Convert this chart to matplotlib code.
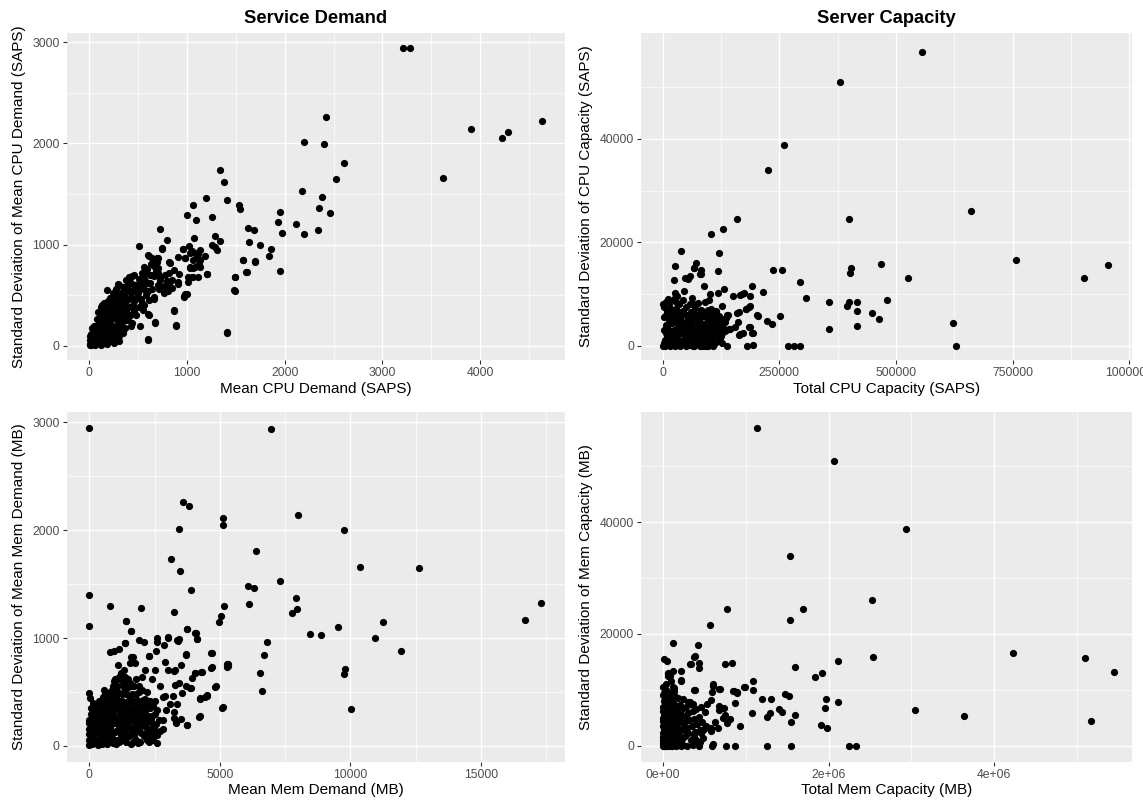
import numpy as np
import matplotlib
matplotlib.use("Agg")
import matplotlib.pyplot as plt
from matplotlib.ticker import FixedLocator

plt.rcParams['font.family'] = ['Liberation Sans', 'DejaVu Sans']

# ---------------- data ----------------
# Panel 1: Mean CPU Demand (SAPS) vs SD of Mean CPU Demand (SAPS)
cpu_demand_points = [
    (3216, 2940), (3284, 2940), (2420, 2257), (4629, 2224), (3902, 2142), (4288, 2109), (4220, 2049),
    (2201, 2013), (2405, 1997), (2610, 1802), (2523, 1650), (3621, 1657), (1333, 1733), (1383, 1620),
    (2178, 1528), (2383, 1475), (1405, 1442), (1197, 1462), (1057, 1396), (2352, 1366), (2462, 1313),
    (1947, 1320), (1534, 1389), (1538, 1356), (1000, 1297), (1095, 1244), (1258, 1274), (1928, 1224),
    (2117, 1201), (1625, 1168), (1686, 1148), (2345, 1145), (1970, 1112), (2201, 1102), (724, 1155),
    (1284, 1082), (799, 1046), (1072, 1063), (1333, 1036), (1633, 1023), (1750, 1000), (1258, 1000),
    (1284, 977), (1303, 950), (508, 983), (742, 964), (958, 957), (1019, 987), (1136, 944), (1117, 911),
    (1856, 957), (981, 868), (1837, 884), (1576, 845), (1701, 832), (1614, 726), (1955, 739), (1492, 680),
    (1489, 545), (1201, 710), (1413, 122), (871, 347), (890, 195), (606, 59), (670, 224), (1189, 884),
    (1133, 848), (1080, 776), (1027, 772), (1129, 779), (1114, 680), (1057, 680), (1011, 630), (917, 710),
    (905, 614), (1000, 515), (970, 482), (826, 822), (818, 719), (811, 597), (716, 561), (610, 891),
    (629, 812), (697, 868), (708, 769), (557, 779), (534, 653), (508, 581), (451, 548), (405, 663),
    (439, 690), (299, 607), (180, 550), (307, 515), (360, 356), (261, 333), (197, 185),
    (740, 961), (955, 961), (1050, 940), (1030, 920), (1100, 880), (1060, 850), (1085, 920), (910, 873),
    (978, 869), (818, 830), (869, 748), (700, 870), (695, 830), (1030, 775), (1064, 765), (1122, 808),
    (1203, 709), (1575, 846), (1698, 833), (1609, 732), (1490, 683), (1486, 552), (910, 627), (1012, 683),
    (1053, 676), (978, 513), (968, 487), (869, 356), (886, 203), (1405, 131), (603, 69), (672, 232),
    (597, 317), (552, 350), (518, 193), (426, 193), (610, 448), (661, 480), (569, 552), (528, 592),
    (767, 595), (801, 546), (842, 569), (849, 650), (723, 650), (700, 720), (665, 690), (630, 700),
    (644, 872), (603, 895), (665, 788),
    # dense cluster
    (5, 5), (10, 20), (15, 50), (20, 10), (25, 80), (30, 30), (35, 120), (40, 60), (45, 15), (50, 150),
    (12, 100), (8, 60), (30, 180), (55, 95), (60, 40), (65, 200), (70, 120), (75, 260), (80, 70),
    (85, 180), (90, 330), (95, 30), (100, 230), (105, 120), (110, 290), (115, 380), (120, 60), (125, 170),
    (130, 400), (135, 250), (140, 100), (145, 330), (150, 200), (155, 420), (160, 60), (165, 290),
    (170, 150), (175, 360), (185, 240), (190, 440), (195, 100), (200, 310), (205, 190), (210, 400),
    (215, 470), (220, 130), (225, 260), (230, 350), (240, 520), (245, 200), (250, 80), (255, 300),
    (260, 430), (265, 160), (270, 380), (275, 560), (280, 250), (285, 480), (290, 120), (295, 330),
    (300, 600), (305, 210), (310, 420), (315, 280), (320, 520), (325, 160), (330, 360), (340, 460),
    (345, 240), (350, 580), (355, 300), (360, 400), (365, 180), (370, 520), (375, 650), (380, 340),
    (390, 450), (395, 250), (400, 560), (405, 680), (410, 380), (420, 300), (425, 480), (430, 620),
    (440, 220), (445, 400), (450, 540), (460, 700), (470, 450), (480, 300), (490, 600), (500, 520),
    (510, 380), (520, 660), (530, 460), (540, 720), (550, 580), (560, 400), (570, 640), (580, 500),
    (590, 760), (600, 620), (610, 300), (620, 700), (640, 560), (650, 820), (660, 460), (680, 740),
    (700, 600), (720, 680), (760, 520), (780, 700), (800, 640), (250, 30), (180, 20), (120, 10),
    (300, 100), (350, 130), (60, 5), (90, 90), (140, 220), (200, 50), (230, 180),
    (20, 120), (45, 200), (70, 40), (95, 150), (110, 200), (125, 330), (150, 280), (160, 370), (175, 90),
    (190, 330), (210, 250), (220, 450), (240, 300), (250, 390), (265, 490), (280, 170), (290, 410),
    (300, 50), (310, 510), (320, 330), (340, 200), (350, 420), (360, 510), (380, 250), (385, 590),
    (400, 460), (415, 300), (430, 530), (450, 460), (460, 340), (470, 600), (490, 480), (505, 660),
    (520, 560), (540, 420), (560, 660), (580, 720), (600, 540), (620, 620),
]

# Panel 2: Total CPU Capacity (SAPS) vs SD of CPU Capacity (SAPS)
cpu_capacity_points = [
    (554700, 56866), (379700, 51050), (260600, 38840), (224800, 34060), (659700, 26110), (399900, 24560),
    (158700, 24490), (129100, 22550), (104300, 21520), (39700, 18350), (120600, 17960), (757000, 16610),
    (71600, 16030), (466800, 15770), (955000, 15700), (27200, 15510), (403000, 15120), (66100, 15120),
    (81700, 14730), (235700, 14730), (255200, 14730), (117500, 14540), (401400, 14090), (80100, 13960),
    (57600, 13440), (47500, 13180), (23300, 12800), (526700, 13120), (903000, 13180), (294900, 12410),
    (87900, 11630), (190600, 11630), (131500, 10920), (214700, 10400), (119000, 10150), (27200, 10270),
    (150200, 9630), (30300, 9630), (101100, 10020), (165000, 9900), (170000, 10100), (174000, 10200),
    (186700, 9690), (307300, 9240), (480000, 8920), (355500, 8400), (398300, 8400), (415500, 8400),
    (126000, 7690), (185900, 7500), (178900, 7110), (395200, 7690), (416200, 6660), (448100, 6400),
    (462900, 5230), (159500, 6400), (138500, 6010), (202300, 5880), (251300, 5820), (223300, 4720),
    (235000, 4270), (622000, 4460), (416200, 3750), (355500, 3170), (185200, 3620), (164200, 2130),
    (171900, 2460), (192200, 2460), (143900, 3300), (135400, 2970), (120600, 1030), (122100, 2460),
    (180500, 0), (194500, 190), (269200, 0), (281600, 0), (294900, 0), (628300, 0), (137700, 0),
    (91000, 300), (97000, 0), (103000, 500), (107000, 0), (88000, 800), (62000, 300), (68000, 0),
    (19000, 6300), (27700, 7100), (65300, 8060), (104400, 7100), (140000, 5900), (136000, 5300),
    (163000, 6450), (177500, 7100), (187000, 7610), (203800, 5800), (161000, 4500), (154000, 3670),
    (132800, 2900), (141300, 3230), (125700, 1940), (186700, 3550), (193000, 2450), (166000, 2260),
    (86600, 0), (95000, 500), (99000, 1000), (55000, 13000), (67500, 14960), (83000, 13800),
    # dense cluster
    (0, 0), (2000, 500), (4000, 1200), (5000, 0), (6000, 2500), (8000, 4000), (10000, 300), (10000, 1800),
    (12000, 3200), (14000, 5000), (15000, 0), (16000, 1000), (18000, 2200), (20000, 4400), (20000, 200),
    (22000, 6100), (24000, 1400), (25000, 3000), (27000, 0), (28000, 5400), (30000, 2000), (30000, 600),
    (32000, 4000), (34000, 6600), (35000, 1200), (36000, 3100), (38000, 0), (40000, 4800), (40000, 2400),
    (42000, 5900), (44000, 800), (45000, 3600), (46000, 6200), (48000, 1800), (50000, 0), (50000, 4500),
    (52000, 2900), (54000, 5500), (55000, 500), (56000, 3700), (58000, 1400), (60000, 6500), (60000, 2400),
    (62000, 4300), (64000, 0), (65000, 5400), (67000, 1000), (68000, 3200), (70000, 7300), (70000, 2000),
    (72000, 4800), (74000, 6000), (75000, 300), (76000, 3600), (78000, 1600), (80000, 5400), (80000, 0),
    (82000, 2700), (84000, 6800), (85000, 4200), (86000, 900), (88000, 3400), (90000, 5800), (90000, 1800),
    (92000, 0), (94000, 4600), (95000, 2700), (96000, 7000), (98000, 600), (100000, 3900), (100000, 5600),
    (102000, 1400), (104000, 2400), (105000, 6400), (108000, 200), (108000, 4200), (110000, 3000),
    (112000, 5200), (114000, 1000), (115000, 6700), (118000, 3600), (120000, 2000), (120000, 5800),
    (124000, 4200), (126000, 500), (130000, 3400), (132000, 5200), (3000, 3000), (7000, 6000),
    (1000, 8000), (12000, 9000), (35000, 8000), (50000, 7500), (45000, 10500), (15000, 7300),
    (3000, 5500), (9000, 6800), (13000, 2000), (17000, 4300), (21000, 5600), (26000, 4700), (29000, 800),
    (33000, 2600), (37000, 5200), (41000, 1000), (43000, 6800), (47000, 2600), (51000, 6000), (53000, 1000),
    (57000, 4900), (59000, 200), (61000, 3600), (63000, 5800), (66000, 2200), (69000, 6100), (71000, 400),
    (73000, 3400), (77000, 5000), (79000, 2300), (81000, 7000), (83000, 4000), (87000, 2000), (89000, 6400),
    (91000, 3800), (93000, 1300), (97000, 5000), (99000, 2800), (103000, 4600), (106000, 1900),
    (109000, 5900), (111000, 600), (113000, 3900), (116000, 2300), (119000, 4800), (122000, 1200),
    (128000, 2500), (134000, 4500), (2000, 7500), (8000, 8500), (16000, 8500), (24000, 9000),
    (31000, 8200), (44000, 8800), (58000, 8000), (62000, 9200), (76000, 8200), (90000, 8500),
    (100000, 8800),
]

# Panel 3: Mean Mem Demand (MB) vs SD of Mean Mem Demand (MB)
mem_demand_points = [
    (0, 2944), (6969, 2941), (3598, 2262), (3810, 2228), (7989, 2144), (5113, 2110), (5113, 2052),
    (3428, 2014), (9759, 1999), (6374, 1804), (3144, 1736), (10354, 1659), (12634, 1653), (3456, 1622),
    (7294, 1532), (6091, 1480), (6289, 1464), (3895, 1443), (0, 1396), (7932, 1372), (17309, 1322),
    (6133, 1313), (5156, 1301), (807, 1301), (1983, 1279), (7946, 1270), (3258, 1245), (5042, 1205),
    (7748, 1230), (4971, 1152), (1416, 1159), (16671, 1168), (11246, 1146), (0, 1112), (9518, 1103),
    (1600, 1069), (3739, 1081), (4065, 1044), (8442, 1035), (8881, 1026), (4108, 989), (10920, 1001),
    (2592, 1004), (3031, 1007), (3385, 973), (6813, 961), (1374, 955), (1884, 982), (2082, 967),
    (11926, 884), (4660, 865), (6685, 847), (3697, 850), (2280, 834), (5311, 757), (5283, 735),
    (6544, 680), (4065, 680), (4306, 686), (4674, 726), (9773, 714), (9759, 664), (6615, 513),
    (4830, 544), (10028, 346), (5099, 355), (4193, 272), (3739, 192), (3314, 213), (3244, 256),
    (2365, 99), (0, 494), (42, 442), (4504, 463), (4419, 451), (4249, 439), (3895, 534),
    (1423, 1157), (1603, 1065), (1372, 958), (2590, 964), (2872, 933), (3013, 1004), (3359, 982),
    (3423, 989), (3756, 1081), (4090, 1044), (4128, 989), (795, 875), (960, 880), (1154, 896),
    (1603, 829), (1680, 823), (1731, 767), (1564, 767), (1090, 755), (2295, 835), (2564, 884),
    (2885, 783), (3026, 706), (3244, 691), (3526, 746), (3705, 844), (4679, 866), (4705, 728),
    (5282, 758), (5320, 737), (4064, 675), (4282, 685), (3936, 629), (3269, 700), (3295, 568),
    (3423, 583), (3705, 553), (3872, 537), (3551, 491), (4833, 553), (4513, 476), (4256, 445),
    (4243, 276), (5115, 359), (2808, 451), (2910, 460), (3205, 460), (3077, 393), (3359, 393),
    (2936, 332), (3231, 316), (3320, 224), (3744, 193), (3526, 252), (2821, 239), (2808, 160),
    (2359, 107), (2400, 620), (2150, 700), (2700, 560), (2000, 640), (1900, 560), (2500, 700),
    (1350, 640), (1200, 680), (1000, 620), (1500, 580), (900, 560),
    # dense cluster
    (0, 10), (0, 60), (0, 110), (0, 160), (0, 210), (0, 240), (30, 30), (40, 130), (50, 200),
    (100, 20), (120, 90), (150, 160), (180, 40), (200, 230), (230, 120), (250, 280), (280, 60),
    (300, 190), (320, 10), (350, 260), (380, 120), (400, 50), (450, 210), (480, 330), (500, 140),
    (520, 30), (550, 280), (580, 390), (600, 90), (620, 200), (650, 330), (680, 20), (700, 150),
    (720, 260), (750, 420), (780, 80), (800, 350), (850, 200), (870, 520), (900, 30), (920, 300),
    (950, 440), (980, 130), (1000, 600), (1020, 250), (1050, 370), (1080, 60), (1100, 500), (1120, 180),
    (1150, 640), (1180, 300), (1200, 420), (1250, 120), (1280, 560), (1300, 250), (1330, 700),
    (1360, 380), (1400, 40), (1420, 480), (1450, 200), (1480, 620), (1500, 330), (1530, 90),
    (1560, 450), (1600, 250), (1630, 560), (1660, 40), (1700, 360), (1750, 150), (1780, 480),
    (1800, 620), (1850, 270), (1880, 30), (1900, 400), (1950, 180), (2000, 520), (2050, 300),
    (2100, 90), (2150, 440), (2200, 220), (2250, 360), (2300, 130), (2400, 280), (2450, 60),
    (2500, 420), (2550, 200), (2600, 330), (2700, 140), (600, 480), (900, 400), (1200, 100),
    (700, 300), (400, 300), (1100, 340), (1350, 520), (1600, 420), (1900, 250), (2200, 500),
    (60, 70), (220, 30), (330, 140), (430, 80), (560, 150), (640, 60), (760, 200), (830, 90), (960, 250),
    (1040, 140), (1130, 40), (1230, 210), (1310, 90), (1440, 310), (1520, 180), (1590, 20), (1680, 230),
    (1720, 100), (1820, 330), (1870, 150), (1960, 40), (2030, 210), (2120, 320), (2180, 120), (2270, 40),
    (2350, 250), (2480, 160), (2580, 30), (2650, 240), (80, 300), (180, 320), (270, 380), (360, 420),
    (430, 370), (520, 450), (610, 380), (690, 440), (760, 320), (840, 480), (930, 540), (1010, 460),
    (1060, 560), (1150, 420), (1240, 480), (1290, 380), (1380, 610), (1440, 540), (1550, 580),
    (1640, 480), (1720, 560), (1820, 430), (1900, 500), (2050, 430), (2120, 380), (2330, 350),
    (2450, 370), (240, 200), (330, 60), (420, 180), (540, 100), (660, 250), (740, 100), (880, 330),
    (1000, 60), (1160, 250), (1260, 330), (1380, 150), (1480, 420), (1620, 140), (1780, 240),
    (1990, 360), (2200, 60), (2380, 160),
    (70, 350), (130, 250), (160, 400), (210, 120), (260, 180), (290, 300), (340, 340), (370, 200),
    (410, 250), (440, 130), (470, 20), (490, 400), (530, 220), (570, 320), (590, 40), (630, 420),
    (670, 130), (710, 370), (730, 50), (770, 260), (810, 180), (860, 380), (890, 120), (940, 210),
    (970, 350), (1030, 20), (1070, 240), (1090, 420), (1140, 330), (1190, 50), (1210, 160), (1270, 420),
    (1320, 180), (1350, 300), (1410, 380), (1460, 100), (1510, 250), (1580, 350), (1650, 170),
    (1690, 300), (1740, 420), (1800, 60), (1840, 200), (1920, 330), (1980, 120), (2080, 250),
    (2160, 180), (2230, 280), (2310, 420), (2420, 200), (2520, 300), (2600, 100), (1100, 50),
    (800, 500), (560, 520), (1250, 600), (950, 600),
]

# Panel 4: Total Mem Capacity (MB) vs SD of Mem Capacity (MB)
mem_capacity_points = [
    (1134000, 56750), (2067000, 50970), (2933000, 38750), (1531000, 33980), (2522000, 26050),
    (1687000, 24500), (781000, 24440), (1540000, 22470), (567000, 21520), (120500, 18300),
    (419600, 17940), (4223000, 16630), (375000, 15920), (2540000, 15800), (5089000, 15680),
    (13000, 15440), (49000, 15140), (2116000, 15140), (330000, 14540), (437500, 14780), (442000, 13830),
    (750000, 14660), (830000, 14720), (1594000, 14130), (58000, 12870), (67000, 12400), (125000, 13350),
    (223000, 13410), (1920000, 13050), (5442000, 13170), (1835000, 12340), (219000, 11620),
    (1085000, 11620), (125000, 10430), (129000, 9780), (379000, 9950), (603000, 10730), (598000, 9660),
    (679000, 10130), (987000, 10430), (1085000, 9950), (848000, 9780), (893000, 9480), (1478000, 9240),
    (1527000, 8940), (1192000, 8400), (1304000, 8400), (1969000, 8400), (875000, 7630), (2112000, 7750),
    (1960000, 6740), (1406000, 6560), (1442000, 6080), (3049000, 6440), (1076000, 5840), (1299000, 5840),
    (1254000, 5070), (3634000, 5310), (1594000, 5420), (1545000, 4170), (5170000, 4470), (1911000, 3700),
    (1978000, 3160), (937000, 3580), (768000, 0), (866000, 0), (1254000, 0), (1545000, 0), (2246000, 0),
    (2326000, 0), (437000, 0), (450000, 600), (607000, 300), (590000, 0), (674000, 6320), (741000, 6680),
    (585000, 8100), (531000, 7450), (326000, 7750), (362000, 7390), (728000, 5000), (781000, 4000),
    (670000, 3100), (504000, 3200), (460000, 2200), (585000, 2600), (376000, 1900), (400000, 1000),
    (676000, 7140), (700000, 6720), (749000, 5530), (810000, 4760), (628000, 4170), (486000, 2860),
    (587000, 3150), (69000, 12970), (85000, 12500), (223000, 11660), (607000, 11070), (688000, 10170),
    (385000, 10000), (134000, 10290), (134000, 9700), (862000, 9820), (895000, 9520), (984000, 10470),
    (385000, 16000), (336000, 14580),
    # dense cluster
    (0, 0), (0, 1000), (0, 2200), (0, 3500), (5000, 500), (5000, 4500), (8000, 1600), (10000, 2800),
    (10000, 5600), (12000, 0), (15000, 3800), (15000, 7000), (18000, 1200), (20000, 4800), (20000, 0),
    (22000, 8200), (25000, 2200), (28000, 6000), (30000, 3400), (30000, 600), (35000, 5000), (38000, 1600),
    (40000, 7400), (42000, 3000), (45000, 0), (48000, 5600), (50000, 2000), (52000, 8600), (55000, 4200),
    (58000, 800), (60000, 6400), (62000, 3000), (65000, 1400), (68000, 5200), (70000, 7800), (72000, 2400),
    (75000, 0), (78000, 4000), (80000, 6200), (82000, 1200), (85000, 3200), (88000, 7200), (90000, 5000),
    (92000, 400), (95000, 2200), (98000, 4400), (100000, 6600), (105000, 1000), (108000, 3600),
    (110000, 8000), (112000, 5400), (115000, 0), (118000, 2600), (120000, 6800), (125000, 4200),
    (128000, 1600), (130000, 5800), (135000, 3000), (138000, 7400), (140000, 400), (145000, 4800),
    (148000, 2000), (150000, 6200), (155000, 3600), (160000, 0), (162000, 5400), (165000, 1200),
    (170000, 4000), (175000, 7000), (178000, 2600), (182000, 5000), (185000, 600), (190000, 3200),
    (195000, 6000), (200000, 1800), (205000, 4400), (210000, 7200), (215000, 0), (220000, 2800),
    (225000, 5600), (230000, 1200), (240000, 4000), (245000, 6800), (250000, 200), (255000, 3000),
    (260000, 5200), (270000, 1800), (275000, 4400), (280000, 7000), (290000, 0), (295000, 3200),
    (300000, 5800), (310000, 2200), (318000, 4600), (330000, 7400), (340000, 1000), (350000, 3600),
    (360000, 6200), (370000, 200), (380000, 4800), (390000, 2400), (400000, 6600), (410000, 3800),
    (420000, 600), (435000, 5200), (450000, 2800), (460000, 7000), (475000, 4200), (490000, 1400),
    (505000, 6000), (520000, 3600), (0, 5000), (0, 7000), (5000, 9000), (10000, 8000), (3000, 6200),
    (15000, 9500), (40000, 10000), (60000, 8600), (95000, 9200), (140000, 9000), (180000, 8500),
    (250000, 8300), (300000, 7800), (35000, 11000), (100000, 11500), (8000, 10500),
]

cpu_dem_x, cpu_dem_y = np.array(cpu_demand_points, dtype=float).T
cpu_cap_x, cpu_cap_y = np.array(cpu_capacity_points, dtype=float).T
mem_dem_x, mem_dem_y = np.array(mem_demand_points, dtype=float).T
mem_cap_x, mem_cap_y = np.array(mem_capacity_points, dtype=float).T

titles = ["Service Demand", "Server Capacity"]

panels = [
    dict(x=cpu_dem_x, y=cpu_dem_y,
         xlabel="Mean CPU Demand (SAPS)", ylabel="Standard Deviation of Mean CPU Demand (SAPS)",
         xticks=[0, 1000, 2000, 3000, 4000], xticklabels=["0", "1000", "2000", "3000", "4000"],
         xminor=[500, 1500, 2500, 3500, 4500],
         yticks=[0, 1000, 2000, 3000], yticklabels=["0", "1000", "2000", "3000"],
         yminor=[500, 1500, 2500],
         xlim=(-231, 4869), ylim=(-141, 3095)),
    dict(x=cpu_cap_x, y=cpu_cap_y,
         xlabel="Total CPU Capacity (SAPS)", ylabel="Standard Deviation of CPU Capacity (SAPS)",
         xticks=[0, 250000, 500000, 750000, 1000000],
         xticklabels=["0", "250000", "500000", "750000", "1000000"],
         xminor=[125000, 375000, 625000, 875000],
         yticks=[0, 20000, 40000], yticklabels=["0", "20000", "40000"],
         yminor=[10000, 30000, 50000],
         xlim=(-46500, 1005000), ylim=(-2767, 60570)),
    dict(x=mem_dem_x, y=mem_dem_y,
         xlabel="Mean Mem Demand (MB)", ylabel="Standard Deviation of Mean Mem Demand (MB)",
         xticks=[0, 5000, 10000, 15000], xticklabels=["0", "5000", "10000", "15000"],
         xminor=[2500, 7500, 12500, 17500],
         yticks=[0, 1000, 2000, 3000], yticklabels=["0", "1000", "2000", "3000"],
         yminor=[500, 1500, 2500],
         xlim=(-865, 18212), ylim=(-145.5, 3098)),
    dict(x=mem_cap_x, y=mem_cap_y,
         xlabel="Total Mem Capacity (MB)", ylabel="Standard Deviation of Mem Capacity (MB)",
         xticks=[0, 2e6, 4e6], xticklabels=["0e+00", "2e+06", "4e+06"],
         xminor=[1e6, 3e6, 5e6],
         yticks=[0, 20000, 40000], yticklabels=["0", "20000", "40000"],
         yminor=[10000, 30000, 50000],
         xlim=(-262000, 5657000), ylim=(-2861, 59723)),
]

# ---------------- layout ----------------
W, H = 1143, 801
fig = plt.figure(figsize=(W / 100, H / 100), dpi=100, facecolor="white")

boxes_px = [
    (66.7, 565.0, 32.7, 360.0),
    (641.0, 1131.7, 32.7, 360.0),
    (66.7, 565.0, 411.7, 761.7),
    (641.0, 1131.7, 411.7, 761.7),
]

for i, (p, (l, r, t, b)) in enumerate(zip(panels, boxes_px)):
    ax = fig.add_axes([l / W, 1 - b / H, (r - l) / W, (b - t) / H])
    ax.set_facecolor("#EBEBEB")
    for s in ax.spines.values():
        s.set_visible(False)
    ax.scatter(p["x"], p["y"], s=27, c="black", linewidths=0, zorder=3)
    ax.set_xlim(*p["xlim"])
    ax.set_ylim(*p["ylim"])
    ax.xaxis.set_major_locator(FixedLocator(p["xticks"]))
    ax.yaxis.set_major_locator(FixedLocator(p["yticks"]))
    ax.set_xticklabels(p["xticklabels"])
    ax.set_yticklabels(p["yticklabels"])
    ax.xaxis.set_minor_locator(FixedLocator(p["xminor"]))
    ax.yaxis.set_minor_locator(FixedLocator(p["yminor"]))
    ax.grid(which="major", color="white", linewidth=1.0, zorder=0)
    ax.grid(which="minor", color="white", linewidth=0.5, zorder=0)
    ax.set_axisbelow(True)
    ax.tick_params(which="major", length=2.75, width=0.8, color="#333333",
                   labelsize=8.8, labelcolor="#4D4D4D", pad=2.2)
    ax.tick_params(which="minor", length=0)
    ax.set_xlabel(p["xlabel"], fontsize=11, color="black", labelpad=2)
    ax.set_ylabel(p["ylabel"], fontsize=11, color="black", labelpad=5)
    if i < 2:
        fig.text((l + r) / 2 / W, 1 - 18.3 / H, titles[i], ha="center", va="center",
                 fontsize=13.2, fontweight="bold")

fig.savefig("out.png", dpi=100, facecolor="white")
